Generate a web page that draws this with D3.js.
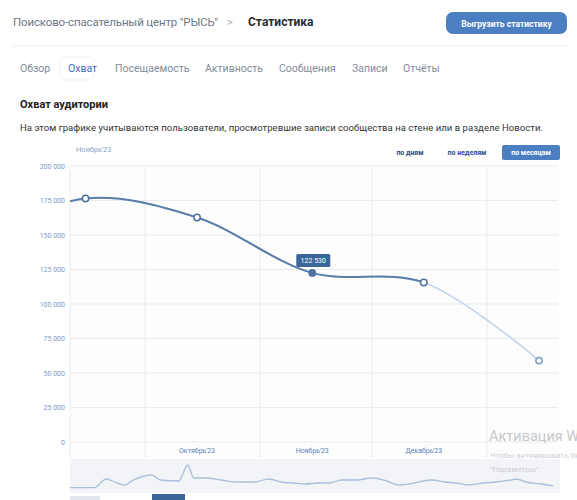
<!DOCTYPE html>
<html>

<head>
  <meta charset="utf-8">
  <title>Охват</title>
  <style>
    body {
      margin: 0;
      background: #fff;
      font-family: Roboto, "Open Sans", sans-serif;
    }

    .grid line {
      stroke: #e9ebef;
    }
  </style>
</head>

<body>
  <svg></svg>
  <script src="https://cdnjs.cloudflare.com/ajax/libs/d3/7.8.5/d3.min.js"></script>
  <script>
    var width = 577,
      height = 500;

    // monthly reach, value on the 15th of each month
    var months = ["2023-08-15", "2023-09-15", "2023-10-15", "2023-11-15", "2023-12-15", "2024-01-15"];
    var reach = [145000, 176500, 162700, 122530, 115600, 59000];
    var monthLabels = ["Октябрь'23", "Ноябрь'23", "Декабрь'23"];
    var monthLabelDates = ["2023-10-15", "2023-11-15", "2023-12-15"];
    var gridDates = ["2023-10-01", "2023-11-01", "2023-12-01", "2024-01-01"];
    var yTicks = [0, 25000, 50000, 75000, 100000, 125000, 150000, 175000, 200000];

    // navigator (small overview chart below)
    var navDays = [0, 8, 12, 14, 18, 21, 27, 30, 36, 39, 41, 45, 50, 55, 61, 66, 70, 74, 78, 82, 86, 90, 95, 100, 105, 109, 114, 117, 120, 124, 128, 132, 137, 141, 146, 148, 151, 156, 160];
    var navValues = [2.3, 2.3, 11, 9, 5, 10, 15, 10, 9, 25, 12, 12, 10, 8, 8, 11, 8, 7, 6, 7, 7, 10, 10, 12, 9, 5, 7, 9, 10, 8, 7, 5, 7, 8, 10, 11, 8, 6, 4];

    var tabs = ["Обзор", "Охват", "Посещаемость", "Активность", "Сообщения", "Записи", "Отчёты"];
    var periods = ["по дням", "по неделям", "по месяцам"];

    var parse = d3.timeParse("%Y-%m-%d");
    var fmt = d3.formatLocale({ decimal: ",", thousands: " ", grouping: [3], currency: ["", ""] }).format(",d");

    var svg = d3.select("svg").attr("width", width).attr("height", height)
      .style("display", "block");

    // ---- header ----
    svg.append("text").attr("x", 13).attr("y", 26)
      .attr("font-size", 11.5).attr("fill", "#6d7885")
      .attr("textLength", 205)
      .text("Поисково-спасательный центр \"РЫСЬ\"");
    svg.append("text").attr("x", 227).attr("y", 26)
      .attr("font-size", 11).attr("fill", "#a0a8b3").text(">");
    svg.append("text").attr("x", 248).attr("y", 26)
      .attr("font-size", 12).attr("font-weight", "bold").attr("fill", "#2c2d2e")
      .text("Статистика");

    svg.append("rect").attr("x", 446).attr("y", 12).attr("width", 121).attr("height", 22)
      .attr("rx", 7).attr("fill", "#4c7fc2");
    svg.append("text").attr("x", 506.5).attr("y", 26.5).attr("text-anchor", "middle")
      .attr("font-size", 8.5).attr("font-weight", "bold").attr("fill", "#fff")
      .text("Выгрузить статистику");

    svg.append("line").attr("x1", 13).attr("x2", 567).attr("y1", 46).attr("y2", 46)
      .attr("stroke", "#eceef1");

    // ---- tabs ----
    var tabX = [20, 68, 115, 205, 279, 352, 403];
    svg.append("rect").attr("x", 60).attr("y", 57).attr("width", 34).attr("height", 23)
      .attr("rx", 5).attr("fill", "#fff").attr("stroke", "#edf0f3");
    svg.selectAll(".tab").data(tabs).enter().append("text")
      .attr("class", "tab")
      .attr("x", (d, i) => tabX[i]).attr("y", 72)
      .attr("font-size", 10.5)
      .attr("fill", (d, i) => i == 1 ? "#3f6ec0" : "#818c99")
      .text(d => d);

    // ---- title ----
    svg.append("text").attr("x", 20).attr("y", 108)
      .attr("font-size", 11).attr("font-weight", "bold").attr("fill", "#222")
      .text("Охват аудитории");
    svg.append("text").attr("x", 20).attr("y", 131)
      .attr("font-size", 9.5).attr("fill", "#333").attr("textLength", 523)
      .text("На этом графике учитываются пользователи, просмотревшие записи сообщества на стене или в разделе Новости.");

    // ---- period switch ----
    var perX = [410, 467, 531];
    svg.append("rect").attr("x", 502).attr("y", 145).attr("width", 58).attr("height", 15)
      .attr("rx", 2).attr("fill", "#4c7fc2");
    svg.selectAll(".per").data(periods).enter().append("text")
      .attr("class", "per")
      .attr("x", (d, i) => perX[i]).attr("y", 155)
      .attr("text-anchor", "middle")
      .attr("font-size", 7).attr("font-weight", "bold")
      .attr("fill", (d, i) => i == 2 ? "#fff" : "#2a4d7e")
      .text(d => d);

    svg.append("text").attr("x", 76).attr("y", 152)
      .attr("font-size", 7.5).attr("fill", "#8aa3c8").text("Ноябрь'23");

    // ---- main chart ----
    var pL = 70, pR = 558, pT = 166, pB = 442;

    var x = d3.scaleTime()
      .domain([parse("2023-10-01"), parse("2024-01-01")])
      .range([145, 487]);
    var y = d3.scaleLinear().domain([0, 200000]).range([pB, pT]);

    svg.append("rect").attr("x", pL).attr("y", pT).attr("width", pR - pL).attr("height", 292)
      .attr("fill", "#fdfdfe");

    var grid = svg.append("g").attr("class", "grid");
    grid.selectAll(".h").data(yTicks).enter().append("line")
      .attr("x1", pL).attr("x2", pR)
      .attr("y1", d => y(d)).attr("y2", d => y(d));
    grid.selectAll(".v").data(gridDates).enter().append("line")
      .attr("x1", d => x(parse(d))).attr("x2", d => x(parse(d)))
      .attr("y1", pT).attr("y2", 458);
    grid.append("line").attr("x1", pL).attr("x2", pL).attr("y1", pT).attr("y2", 458);

    var yAxis = d3.axisLeft(y).tickValues(yTicks).tickSize(0).tickPadding(5).tickFormat(fmt);
    var ya = svg.append("g").attr("transform", "translate(" + pL + ",0)").call(yAxis);
    ya.select(".domain").remove();
    ya.selectAll("text").attr("fill", "#7b9bc9").attr("font-size", 7)
      .attr("font-family", "Roboto, sans-serif");

    svg.selectAll(".xl").data(monthLabelDates).enter().append("text")
      .attr("x", d => x(parse(d))).attr("y", 453)
      .attr("text-anchor", "middle").attr("font-size", 7).attr("fill", "#5b82bd")
      .text((d, i) => monthLabels[i]);

    svg.append("clipPath").attr("id", "plot")
      .append("rect").attr("x", pL).attr("y", pT - 10).attr("width", pR - pL).attr("height", 300);

    var pts = months.map((m, i) => ({ date: parse(m), v: reach[i] }));
    var line = d3.line().x(d => x(d.date)).y(d => y(d.v)).curve(d3.curveCatmullRom.alpha(0.5));

    var g = svg.append("g").attr("clip-path", "url(#plot)");
    // incomplete last month, lighter
    g.append("path").datum(pts)
      .attr("d", line).attr("fill", "none")
      .attr("stroke", "#c4d4e8").attr("stroke-width", 1.6);
    g.append("clipPath").attr("id", "solid")
      .append("rect").attr("x", 0).attr("y", 0).attr("width", x(pts[4].date)).attr("height", height);
    g.append("path").datum(pts)
      .attr("clip-path", "url(#solid)")
      .attr("d", line).attr("fill", "none")
      .attr("stroke", "#5a7ea8").attr("stroke-width", 2);

    svg.selectAll(".pt").data(pts.slice(1)).enter().append("circle")
      .attr("cx", d => x(d.date)).attr("cy", d => y(d.v))
      .attr("r", 3.2)
      .attr("fill", (d, i) => i == 2 ? "#4f73a0" : "#fff")
      .attr("stroke", (d, i) => i == 4 ? "#7f9dc2" : "#4f73a0")
      .attr("stroke-width", 1.5);

    // tooltip on the hovered point
    var hp = pts[3];
    svg.append("rect").attr("x", x(hp.date) - 16).attr("y", y(hp.v) - 19)
      .attr("width", 34).attr("height", 13).attr("rx", 1.5).attr("fill", "#3e6597");
    svg.append("text").attr("x", x(hp.date) + 1).attr("y", y(hp.v) - 10)
      .attr("text-anchor", "middle").attr("font-size", 7).attr("fill", "#fff")
      .text(fmt(hp.v));

    // ---- navigator ----
    var nx = d3.scaleLinear().domain([0, 160]).range([70, 553]);
    var ny = d3.scaleLinear().domain([0, 28]).range([490, 462]);
    svg.append("rect").attr("x", pL).attr("y", 459).attr("width", 490).attr("height", 34)
      .attr("fill", "#f3f4f7");
    svg.append("path").datum(navDays)
      .attr("d", d3.line().x(d => nx(d)).y((d, i) => ny(navValues[i])).curve(d3.curveMonotoneX))
      .attr("fill", "none").attr("stroke", "#a9bfdc").attr("stroke-width", 1.3);

    svg.append("rect").attr("x", 70).attr("y", 496).attr("width", 30).attr("height", 4).attr("fill", "#e3e7ee");
    svg.append("rect").attr("x", 152).attr("y", 494).attr("width", 33).attr("height", 6).attr("fill", "#3e6597");

    // ---- windows watermark ----
    svg.append("text").attr("x", 489).attr("y", 441)
      .attr("font-size", 14.5).attr("fill", "#c8c8c8").text("Активация Windows");
    svg.append("text").attr("x", 490).attr("y", 458)
      .attr("font-size", 8).attr("fill", "#cfcfcf").text("Чтобы активировать Windows, перейдите в раздел");
    svg.append("text").attr("x", 490).attr("y", 472)
      .attr("font-size", 8).attr("fill", "#cfcfcf").text("\"Параметры\".");
  </script>
</body>

</html>
